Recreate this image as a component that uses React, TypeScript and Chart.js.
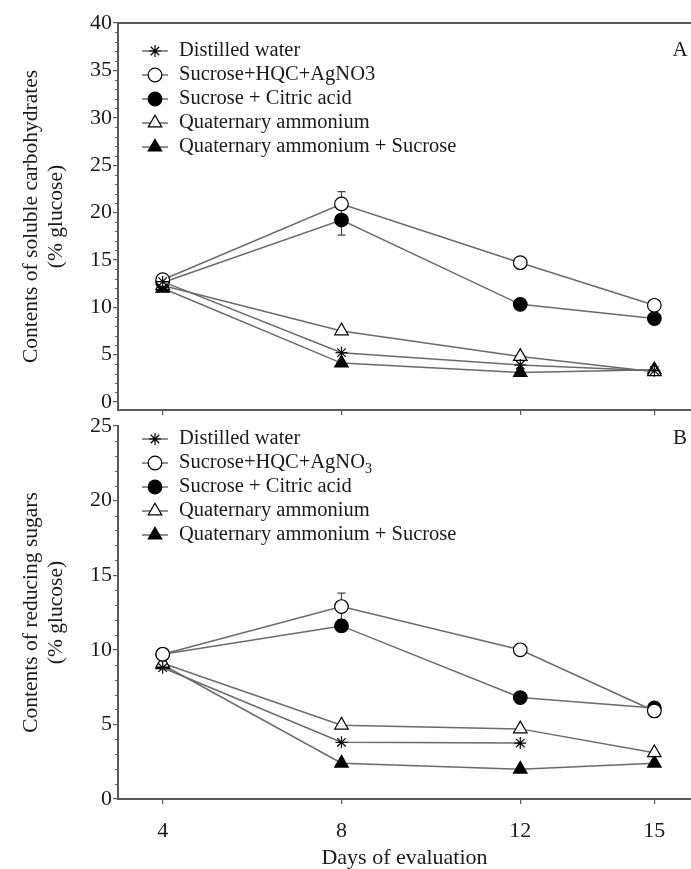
import React, { useEffect, useRef } from 'react';
import { Chart, registerables } from 'chart.js';
import { drawPoint } from 'chart.js/helpers';

Chart.register(...registerables);

// ---------- data ----------
const DAYS = [4, 8, 12, 15];
const X_TICKS = [4, 8, 12, 15];
const Y_TICKS_A = [0, 5, 10, 15, 20, 25, 30, 35, 40];
const Y_TICKS_B = [0, 5, 10, 15, 20, 25];

const LABELS_A = [
  'Distilled water',
  'Sucrose+HQC+AgNO3',
  'Sucrose + Citric acid',
  'Quaternary ammonium',
  'Quaternary ammonium + Sucrose',
];
const LABELS_B = [
  'Distilled water',
  'Sucrose+HQC+AgNO₃',
  'Sucrose + Citric acid',
  'Quaternary ammonium',
  'Quaternary ammonium + Sucrose',
];

const A_DISTILLED = [12.7, 5.2, 3.9, 3.3];
const A_HQC = [12.9, 20.9, 14.7, 10.2];
const A_CITRIC = [12.6, 19.2, 10.3, 8.8];
const A_QUAT = [12.3, 7.5, 4.8, 3.2];
const A_QUAT_SUC = [12.0, 4.1, 3.1, 3.4];
const A_ERR_DISTILLED = [0, 0, 0, 0];
const A_ERR_HQC = [0, 1.3, 0, 0];
const A_ERR_CITRIC = [0, 1.6, 0, 0];
const A_ERR_QUAT = [0, 0, 0, 0];
const A_ERR_QUAT_SUC = [0, 0, 0, 0];

const B_DISTILLED: (number | null)[] = [8.8, 3.8, 3.75, null];
const B_HQC = [9.7, 12.9, 10.0, 5.9];
const B_CITRIC = [9.7, 11.6, 6.8, 6.1];
const B_QUAT = [9.1, 4.95, 4.7, 3.1];
const B_QUAT_SUC = [9.0, 2.4, 2.0, 2.4];
const B_ERR_DISTILLED = [0, 0, 0, 0];
const B_ERR_HQC = [0, 0.9, 0, 0];
const B_ERR_CITRIC = [0, 0, 0, 0];
const B_ERR_QUAT = [0, 0, 0, 0];
const B_ERR_QUAT_SUC = [0, 0, 0, 0];

// ---------- styles ----------
const FONT = '"Liberation Serif", "Times New Roman", serif';
const AXIS_COLOR = '#5a5a5a';
const LINE_COLOR = '#6a6a6a';
const TEXT_COLOR = '#1a1a1a';

const MARKERS = [
  { style: 'star', fill: '#000', radius: 6 },
  { style: 'circle', fill: '#fff', radius: 6.8 },
  { style: 'circle', fill: '#000', radius: 6.8 },
  { style: 'triangle', fill: '#fff', radius: 7.8 },
  { style: 'triangle', fill: '#000', radius: 7.8 },
];

function makeDatasets(labels: string[], series: (number | null)[][], errs: number[][]) {
  return series.map((vals, i) => ({
    label: labels[i],
    data: DAYS.map((d, j) => ({ x: d, y: vals[j] })),
    errors: errs[i],
    borderColor: LINE_COLOR,
    borderWidth: 1.5,
    pointStyle: MARKERS[i].style,
    pointRadius: MARKERS[i].radius,
    pointHoverRadius: MARKERS[i].radius,
    pointBackgroundColor: MARKERS[i].fill,
    pointBorderColor: '#000',
    pointBorderWidth: 1.2,
    fill: false,
    tension: 0,
    spanGaps: false,
  }));
}

// ---------- plugins ----------
const errorBarPlugin = {
  id: 'errorBars',
  beforeDatasetsDraw(chart: any) {
    const { ctx } = chart;
    const yScale = chart.scales.y;
    chart.data.datasets.forEach((ds: any, i: number) => {
      const meta = chart.getDatasetMeta(i);
      (ds.errors || []).forEach((e: number, j: number) => {
        const v = ds.data[j].y;
        if (!e || v == null) return;
        const pt = meta.data[j];
        const yTop = yScale.getPixelForValue(v + e);
        const yBot = yScale.getPixelForValue(v - e);
        ctx.save();
        ctx.strokeStyle = '#444';
        ctx.lineWidth = 1.2;
        ctx.beginPath();
        ctx.moveTo(pt.x, yTop);
        ctx.lineTo(pt.x, yBot);
        ctx.moveTo(pt.x - 4, yTop);
        ctx.lineTo(pt.x + 4, yTop);
        ctx.moveTo(pt.x - 4, yBot);
        ctx.lineTo(pt.x + 4, yBot);
        ctx.stroke();
        ctx.restore();
      });
    });
  },
};

const LEGEND_FONT = 20.5;

const decorPlugin = {
  id: 'decor',
  afterDraw(chart: any, _args: any, opts: any) {
    const { ctx, chartArea } = chart;
    const yScale = chart.scales.y;
    ctx.save();
    // minor ticks
    ctx.strokeStyle = AXIS_COLOR;
    ctx.lineWidth = 1;
    for (let v = Math.ceil(yScale.min); v <= yScale.max; v++) {
      if (v % 5 === 0) continue;
      const py = Math.round(yScale.getPixelForValue(v)) + 0.5;
      ctx.beginPath();
      ctx.moveTo(chartArea.left - 3, py);
      ctx.lineTo(chartArea.left, py);
      ctx.stroke();
    }
    // top border
    if (opts.topBorder) {
      ctx.strokeStyle = AXIS_COLOR;
      ctx.lineWidth = 2;
      ctx.beginPath();
      ctx.moveTo(chartArea.left - 1, chartArea.top);
      ctx.lineTo(chartArea.right, chartArea.top);
      ctx.stroke();
    }
    // panel letter
    ctx.fillStyle = TEXT_COLOR;
    ctx.font = `21px ${FONT}`;
    ctx.textAlign = 'center';
    ctx.textBaseline = 'middle';
    ctx.fillText(opts.letter, chartArea.right - 11, chartArea.top + opts.letterDy);

    // legend
    ctx.textAlign = 'left';
    chart.data.datasets.forEach((ds: any, i: number) => {
      const y = chartArea.top + opts.legendTop + i * 24;
      ctx.strokeStyle = ds.borderColor;
      ctx.lineWidth = ds.borderWidth;
      ctx.beginPath();
      ctx.moveTo(142, y);
      ctx.lineTo(168, y);
      ctx.stroke();
      ctx.fillStyle = ds.pointBackgroundColor;
      ctx.strokeStyle = ds.pointBorderColor;
      ctx.lineWidth = ds.pointBorderWidth;
      drawPoint(ctx, { pointStyle: ds.pointStyle, radius: ds.pointRadius, rotation: 0, borderWidth: ds.pointBorderWidth } as any, 155, y);
      ctx.fillStyle = TEXT_COLOR;
      const label: string = ds.label;
      if (label.includes('₃')) {
        const base = label.replace('₃', '');
        ctx.font = `${LEGEND_FONT}px ${FONT}`;
        ctx.fillText(base, 179, y);
        const w = ctx.measureText(base).width;
        ctx.font = `14px ${FONT}`;
        ctx.fillText('3', 179 + w, y + 6);
      } else {
        ctx.font = `${LEGEND_FONT}px ${FONT}`;
        ctx.fillText(label, 179, y);
      }
    });
    ctx.restore();
  },
};

// ---------- config ----------
function makeConfig(panel: 'A' | 'B') {
  const isA = panel === 'A';
  const datasets = isA
    ? makeDatasets(LABELS_A, [A_DISTILLED, A_HQC, A_CITRIC, A_QUAT, A_QUAT_SUC],
        [A_ERR_DISTILLED, A_ERR_HQC, A_ERR_CITRIC, A_ERR_QUAT, A_ERR_QUAT_SUC])
    : makeDatasets(LABELS_B, [B_DISTILLED, B_HQC, B_CITRIC, B_QUAT, B_QUAT_SUC],
        [B_ERR_DISTILLED, B_ERR_HQC, B_ERR_CITRIC, B_ERR_QUAT, B_ERR_QUAT_SUC]);
  const yTicks = isA ? Y_TICKS_A : Y_TICKS_B;
  return {
    type: 'line' as const,
    data: { datasets },
    options: {
      responsive: false,
      animation: false,
      events: [],
      layout: { autoPadding: false, padding: { top: isA ? 23 : 10, right: 0, bottom: 0, left: 0 } },
      plugins: {
        legend: { display: false },
        tooltip: { enabled: false },
        decor: {
          letter: panel,
          letterDy: isA ? 27 : 12,
          legendTop: isA ? 28 : 13,
          topBorder: isA,
        },
      },
      scales: {
        x: {
          type: 'linear',
          min: 3,
          max: 15.82,
          afterBuildTicks: (s: any) => { s.ticks = X_TICKS.map((v) => ({ value: v })); },
          afterFit: (s: any) => {
            s.height = isA ? 6 : 70;
            s.paddingLeft = 0;
            s.paddingRight = 0;
          },
          grid: { drawOnChartArea: false, drawTicks: true, tickLength: 5, color: AXIS_COLOR, lineWidth: 1.2 },
          border: { display: true, color: AXIS_COLOR, width: 2 },
          ticks: {
            callback: (v: any) => (isA ? '' : String(v)),
            font: { family: FONT, size: 22 },
            color: TEXT_COLOR,
            padding: 14,
            maxRotation: 0,
            autoSkip: false,
          },
          title: isA
            ? { display: false }
            : {
                display: true,
                text: 'Days of evaluation',
                font: { family: FONT, size: 22, lineHeight: 1 },
                color: TEXT_COLOR,
                padding: { top: 0, bottom: 0 },
              },
        },
        y: {
          type: 'linear',
          min: isA ? -0.85 : 0,
          max: isA ? 40 : 25,
          afterBuildTicks: (s: any) => { s.ticks = yTicks.map((v) => ({ value: v })); },
          afterFit: (s: any) => {
            s.width = 118;
            s.paddingTop = 0;
            s.paddingBottom = 0;
          },
          grid: { drawOnChartArea: false, drawTicks: true, tickLength: 5, color: AXIS_COLOR, lineWidth: 1.2 },
          border: { display: true, color: AXIS_COLOR, width: 2 },
          ticks: {
            font: { family: FONT, size: 22 },
            color: TEXT_COLOR,
            padding: 1,
            autoSkip: false,
          },
          title: {
            display: true,
            text: isA ? ['Contents of soluble carbohydrates', '(% glucose)'] : ['Contents of reducing sugars', '(% glucose)'],
            font: { family: FONT, size: 21.5, lineHeight: 1.2 },
            color: TEXT_COLOR,
            padding: { top: 18, bottom: 0 },
          },
        },
      },
    },
    plugins: [errorBarPlugin, decorPlugin],
  };
}

function Panel({ panel, top, height }: { panel: 'A' | 'B'; top: number; height: number }) {
  const ref = useRef<HTMLCanvasElement | null>(null);
  useEffect(() => {
    if (!ref.current) return;
    const chart = new Chart(ref.current, makeConfig(panel) as any);
    return () => chart.destroy();
  }, [panel]);
  return (
    <canvas
      ref={ref}
      width={691}
      height={height}
      style={{ position: 'absolute', left: 0, top, width: 691, height }}
    />
  );
}

export default function App() {
  return (
    <div style={{ position: 'absolute', left: 0, top: 0, width: 691, height: 869, background: '#fff', overflow: 'hidden' }}>
      <Panel panel="A" top={0} height={416} />
      <Panel panel="B" top={416} height={453} />
    </div>
  );
}
